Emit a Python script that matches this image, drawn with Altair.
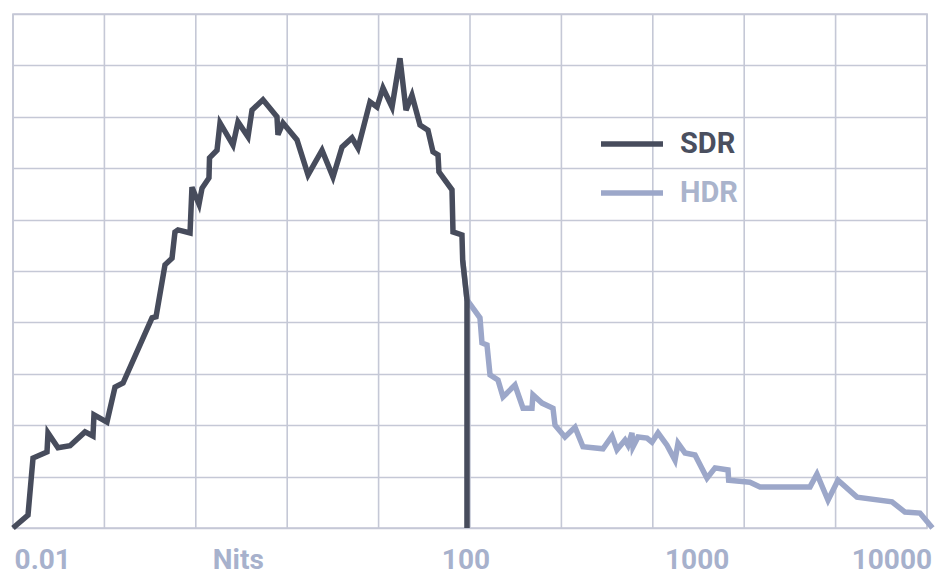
import altair as alt
import pandas as pd

# Histogram of picture levels: x = PQ signal (% of code range), y = share of pixels (%)
sdr_signal = [0.0, 1.64, 2.19, 3.72, 3.83, 4.92, 6.24, 7.88, 8.75, 8.86, 10.28, 11.16,
              12.04, 15.21, 15.65, 16.63, 17.40, 17.72, 18.05, 19.37, 19.58, 20.35,
              20.68, 21.44, 21.50, 22.32, 22.65, 24.07, 24.62, 25.71, 26.15, 27.35,
              28.88, 28.99, 29.54, 31.07, 32.28, 33.81, 35.01, 36.00, 37.09, 37.75,
              39.06, 39.82, 40.48, 41.47, 42.34, 43.00, 43.65, 44.53, 45.40, 45.95,
              46.50, 46.60, 48.03, 48.14, 49.12, 49.20, 49.67, 49.67]
sdr_share = [0.0, 2.5, 13.6, 14.8, 18.5, 15.6, 16.0, 18.7, 17.9, 22.0, 20.6, 27.4,
             28.2, 40.9, 41.1, 51.2, 52.5, 57.6, 58.0, 57.4, 66.3, 63.0,
             66.1, 68.1, 72.0, 73.5, 78.8, 74.5, 79.0, 76.1, 81.3, 83.3,
             80.0, 76.5, 78.8, 75.5, 68.7, 73.5, 68.3, 74.1, 75.9, 73.9,
             82.9, 81.9, 85.6, 81.9, 91.4, 81.3, 84.2, 78.4, 77.4, 73.2,
             72.6, 69.3, 65.8, 57.6, 57.0, 52.1, 44.4, 0.0]

hdr_signal = [49.20, 49.67, 51.09, 51.31, 51.86, 52.19, 53.06, 53.61, 54.92, 55.80,
              56.78, 56.89, 57.88, 59.08, 59.30, 60.39, 61.49, 62.36, 64.55, 65.54,
              66.08, 66.96, 67.29, 67.72, 67.83, 68.38, 69.37, 69.91, 70.57, 71.55,
              72.43, 72.76, 73.52, 74.62, 75.93, 76.81, 78.23, 78.30, 80.63, 81.73,
              87.20, 87.96, 89.17, 90.26, 92.34, 96.17, 97.59, 99.23, 100.6]
hdr_share = [52.1, 44.4, 40.9, 36.0, 35.6, 29.8, 28.8, 25.5, 27.8, 23.3,
             23.3, 25.9, 24.3, 23.3, 20.0, 17.7, 19.6, 15.8, 15.4, 17.9,
             15.2, 17.1, 16.1, 18.5, 15.8, 17.7, 17.5, 16.7, 18.5, 16.1,
             13.2, 16.5, 14.6, 14.2, 9.7, 11.7, 11.3, 9.3, 8.9, 8.0,
             8.0, 10.5, 5.4, 9.3, 6.0, 5.1, 3.1, 2.9, 0.0]

# Luminance labels placed along the signal axis
tick_signal = [3.2, 24.6, 49.5, 74.8, 96.1]
tick_text = ["0.01", "Nits", "100", "1000", "10000"]
grid_steps = list(range(0, 101, 10))

series = ["SDR", "HDR"]
colors = ["#474c5c", "#9ca7c9"]
label_colors = ["#4a4f5f", "#aab4cc"]

GRID = "#c5c8d6"
FONT = "Roboto"

sdr_df = pd.DataFrame({"signal": sdr_signal, "share": sdr_share,
                       "series": "SDR", "i": range(len(sdr_signal))})
hdr_df = pd.DataFrame({"signal": hdr_signal, "share": hdr_share,
                       "series": "HDR", "i": range(len(hdr_signal))})
grid_df = pd.DataFrame({"signal": grid_steps})

label_expr = "[{}][indexof([{}], datum.value)]".format(
    ",".join("'{}'".format(t) for t in tick_text),
    ",".join(str(v) for v in tick_signal),
)

x_enc = alt.X(
    "signal:Q",
    scale=alt.Scale(domain=[0, 100], nice=False, zero=False),
    axis=alt.Axis(
        values=tick_signal, labelExpr=label_expr, title=None,
        grid=False, domain=False, ticks=False,
        labelFont=FONT, labelFontSize=28, labelFontWeight="bold",
        labelColor="#a7b1cc", labelBaseline="alphabetic", labelPadding=40,
        labelFlush=False, labelOverlap=False, labelAlign="center",
    ),
)

y_enc = alt.Y(
    "share:Q",
    scale=alt.Scale(domain=[0, 100], nice=False, zero=True),
    axis=alt.Axis(
        values=grid_steps, labels=False, ticks=False, domain=False, title=None,
        grid=True, gridColor=GRID, gridWidth=1.6,
    ),
)

color_expr = "datum.label === '{}' ? '{}' : '{}'".format(series[0], label_colors[0], label_colors[1])

color_enc = alt.Color(
    "series:N",
    scale=alt.Scale(domain=series, range=colors),
    legend=alt.Legend(
        title=None, orient="none", legendX=585, legendY=96,
        symbolType="stroke", symbolSize=3844, symbolStrokeWidth=5.5,
        labelFont=FONT, labelFontSize=29, labelFontWeight="bold",
        labelColor=alt.ExprRef(color_expr), labelOffset=14, rowPadding=-8,
    ),
)

vgrid = alt.Chart(grid_df).mark_rule(color=GRID, strokeWidth=1.6).encode(x=x_enc)

hdr_line = alt.Chart(hdr_df).mark_line(strokeWidth=5.5).encode(
    x=x_enc, y=y_enc, color=color_enc, order=alt.Order("i:Q")
)
sdr_line = alt.Chart(sdr_df).mark_line(strokeWidth=5.5).encode(
    x=x_enc, y=y_enc, color=color_enc, order=alt.Order("i:Q")
)

chart = alt.layer(vgrid, hdr_line, sdr_line).properties(
    width=914, height=514,
    autosize=alt.AutoSizeParams(type="none"),
    padding={"left": 13, "top": 14, "right": 8, "bottom": 46},
    background="white",
).configure_view(stroke=GRID, strokeWidth=1.6)

chart.save("out.html", embed_options={"renderer": "svg", "actions": False})
